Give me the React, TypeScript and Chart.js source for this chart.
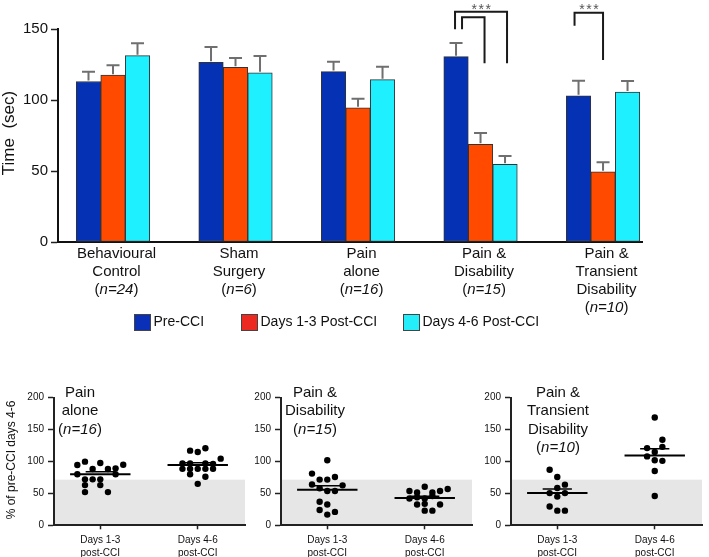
import React, { useEffect, useRef } from 'react';
import { Chart, registerables } from 'chart.js';

Chart.register(...registerables);

const FONT = '"Liberation Sans", Arial, Helvetica, sans-serif';

// ---------- Top bar chart data ----------
const groupNames = [
  ['Behavioural', 'Control'],
  ['Sham', 'Surgery'],
  ['Pain', 'alone'],
  ['Pain &', 'Disability'],
  ['Pain &', 'Transient', 'Disability'],
];
const groupN = ['24', '6', '16', '15', '10'];
const seriesNames = ['Pre-CCI', 'Days 1-3 Post-CCI', 'Days 4-6 Post-CCI'];
const preCciMeans = [113, 126.5, 120, 130.5, 103];
const preCciSem = [6.9, 10.8, 7, 9.6, 10.6];
const days13Means = [117.5, 123, 94.5, 68.8, 49.5];
const days13Sem = [7, 6.6, 6.3, 8, 6.6];
const days46Means = [131.2, 119.2, 114.3, 54.7, 105.6];
const days46Sem = [8.8, 11.8, 9.2, 5.9, 7.8];
const barYTicks = [0, 50, 100, 150];
const significance = ['***', '***'];

// ---------- Bottom scatter data ----------
const scatterCategories = [
  ['Days 1-3', 'post-CCI'],
  ['Days 4-6', 'post-CCI'],
];
const painAloneDays13 = [94.6, 99.8, 97.7, 95, 88.3, 88.3, 89.3, 80, 80, 72, 72, 72, 63, 63, 52, 52];
const painAloneDays13Jitter = [-3, -2, 0, 3, -1, 1, 2, -3, 2, -2, -1, 0, -2, 0, -2, 1];
const painAloneDays46 = [117, 115, 120.7, 104.5, 97, 97, 97, 96, 88.5, 88.5, 88.5, 88.5, 88.5, 80, 76, 65];
const painAloneDays46Jitter = [-1, 0, 1, 3, -2, -1, 1, 2, -2, -1, 0, 1, 2, -1, 1, 0];
const painAloneMean = [80, 94.6];
const painAloneSem = [4, 3.5];

const painDisDays13 = [102, 81, 64, 71.6, 71.6, 75.8, 62.6, 58, 53.7, 53.7, 36.8, 32.6, 24, 16.8, 21];
const painDisDays13Jitter = [0, -2, -2, -1, 0, 1, 2, -1, 0, 1, -1, 0, -1, 0, 1];
const painDisDays46 = [60.5, 53.7, 51.6, 51.6, 53.7, 57, 42, 44, 42, 46, 32.6, 33.6, 32.6, 23, 23];
const painDisDays46Jitter = [0, -2, -1, 1, 2, 3, -2, -1, 0, 1, -1, 0, 2, 0, 1];
const painDisMean = [55.8, 42.6];
const painDisSem = [6, 3];

const transDays13 = [87, 75.8, 63.7, 58.4, 50.5, 50.5, 45, 29.5, 23, 23];
const transDays13Jitter = [-1, 0, 1, 0, -1, 1, 0, -1, 0, 1];
const transDays46 = [169, 134, 121, 123, 115, 108, 102, 101, 85, 46];
const transDays46Jitter = [0, 1, -1, 1, 0, -1, 0, 1, 0, 0];
const transMean = [50.5, 109.5];
const transSem = [6.5, 10.5];

const scatterYTicks = [0, 50, 100, 150, 200];
const thresholdPercent = 71.5;

// ---------- helpers ----------
type Seg = [string, boolean];
function nSegments(n: string): Seg[] {
  return [['(', false], ['n=' + n, true], [')', false]];
}
function drawSegments(ctx: CanvasRenderingContext2D, segs: Seg[], cx: number, cy: number, size: number) {
  let total = 0;
  const widths = segs.map(([t, it]) => {
    ctx.font = `${it ? 'italic ' : ''}${size}px ${FONT}`;
    const w = ctx.measureText(t).width;
    total += w;
    return w;
  });
  let x = cx - total / 2;
  ctx.textAlign = 'left';
  ctx.textBaseline = 'middle';
  segs.forEach(([t, it], i) => {
    ctx.font = `${it ? 'italic ' : ''}${size}px ${FONT}`;
    ctx.fillText(t, x, cy);
    x += widths[i];
  });
}

const barColors = ['#0532B4', '#FF4A00', '#1EF0FF'];
const legendColors = ['#0A30B8', '#EC2A22', '#24EEFA'];
const allMeans = [preCciMeans, days13Means, days46Means];
const allSems = [preCciSem, days13Sem, days46Sem];

const topPlugin = {
  id: 'topDecor',
  afterDatasetsDraw(chart: any) {
    const ctx: CanvasRenderingContext2D = chart.ctx;
    const ys = chart.scales.y;
    ctx.save();
    // error bars
    ctx.strokeStyle = '#6f6f6f';
    ctx.lineWidth = 2;
    allSems.forEach((sems, di) => {
      const meta = chart.getDatasetMeta(di);
      meta.data.forEach((el: any, j: number) => {
        const top = ys.getPixelForValue(allMeans[di][j] + sems[j]);
        ctx.beginPath();
        ctx.moveTo(el.x, el.y - 1);
        ctx.lineTo(el.x, top);
        ctx.moveTo(el.x - 6.5, top);
        ctx.lineTo(el.x + 6.5, top);
        ctx.stroke();
      });
    });
    // significance brackets
    const bx = (di: number, g: number) => chart.getDatasetMeta(di).data[g].x;
    const brackets = [
      { g: 3, a: 0, b: 2, top: 162.2, lb: 149.8, rb: 125.8, dl: -1, dr: 2, s: 0 },
      { g: 3, a: 0, b: 1, top: 158.2, lb: 149.8, rb: 125.8, dl: 6, dr: 4, s: -1 },
      { g: 4, a: 0, b: 1, top: 161.5, lb: 152.3, rb: 128.2, dl: -4, dr: 0, s: 1 },
    ];
    ctx.strokeStyle = '#1a1a1a';
    ctx.lineWidth = 2;
    brackets.forEach((br) => {
      const x1 = bx(br.a, br.g) + br.dl;
      const x2 = bx(br.b, br.g) + br.dr;
      const yt = ys.getPixelForValue(br.top);
      ctx.beginPath();
      ctx.moveTo(x1, ys.getPixelForValue(br.lb));
      ctx.lineTo(x1, yt);
      ctx.lineTo(x2, yt);
      ctx.lineTo(x2, ys.getPixelForValue(br.rb));
      ctx.stroke();
      if (br.s >= 0) {
        ctx.fillStyle = '#555';
        ctx.font = `14px ${FONT}`;
        ctx.textAlign = 'center';
        ctx.textBaseline = 'alphabetic';
        (ctx as any).letterSpacing = '1.5px';
        ctx.fillText(significance[br.s], (x1 + x2) / 2 + 1, 13.5);
        (ctx as any).letterSpacing = '0px';
      }
    });
    ctx.restore();
  },
  afterDraw(chart: any) {
    const ctx: CanvasRenderingContext2D = chart.ctx;
    ctx.save();
    ctx.fillStyle = '#111';
    // category labels
    groupNames.forEach((lines, g) => {
      const cx = chart.getDatasetMeta(1).data[g].x + 3.5;
      ctx.font = `15px ${FONT}`;
      ctx.textAlign = 'center';
      ctx.textBaseline = 'middle';
      lines.forEach((l, k) => {
        ctx.font = `15px ${FONT}`;
        ctx.textAlign = 'center';
        ctx.textBaseline = 'middle';
        ctx.fillText(l, cx, 254 + k * 18);
      });
      drawSegments(ctx, nSegments(groupN[g]), cx, 254 + lines.length * 18, 15);
    });
    // legend
    const lx = [134, 241, 403];
    seriesNames.forEach((name, i) => {
      ctx.fillStyle = legendColors[i];
      ctx.fillRect(lx[i], 314, 17, 17);
      ctx.strokeStyle = '#444';
      ctx.lineWidth = 1;
      ctx.strokeRect(lx[i] + 0.5, 314.5, 16, 16);
      ctx.fillStyle = '#111';
      ctx.font = `14px ${FONT}`;
      ctx.textAlign = 'left';
      ctx.textBaseline = 'middle';
      ctx.fillText(name, lx[i] + 19.5, 322.5);
    });
    // y title
    ctx.translate(9, 133);
    ctx.rotate(-Math.PI / 2);
    ctx.font = `17px ${FONT}`;
    ctx.textAlign = 'center';
    ctx.textBaseline = 'middle';
    ctx.fillText('Time  (sec)', 0, 0);
    ctx.restore();
  },
};

function TopChart() {
  const ref = useRef<HTMLCanvasElement>(null);
  useEffect(() => {
    const canvas = ref.current!;
    const chart = new Chart(canvas, {
      type: 'bar',
      data: {
        datasets: allMeans.map((arr, i) => ({
          label: seriesNames[i],
          data: arr.map((v, g) => ({ x: g, y: v })),
          backgroundColor: barColors[i],
          borderColor: '#333',
          borderWidth: 1,
          borderSkipped: false,
          barThickness: 24.5,
        })),
      } as any,
      options: {
        animation: false,
        responsive: false,
        devicePixelRatio: 1,
        layout: { padding: { top: 29, right: 67, left: 0, bottom: 0 } },
        plugins: { legend: { display: false }, tooltip: { enabled: false } },
        scales: {
          x: {
            type: 'linear',
            min: -0.449,
            max: 4.318,
            offset: false,
            ticks: { display: false },
            grid: { display: false, offset: false },
            border: { display: true, color: '#111', width: 2 },
            afterFit: (s: any) => {
              s.height = 98;
            },
          },
          y: {
            min: 0,
            max: 150,
            afterBuildTicks: (s: any) => {
              s.ticks = barYTicks.map((v) => ({ value: v }));
            },
            ticks: { color: '#111', font: { family: FONT, size: 15 }, padding: 3 },
            grid: { display: true, drawOnChartArea: false, drawTicks: true, tickLength: 7, tickColor: '#222', tickWidth: 1.5 },
            border: { display: true, color: '#111', width: 2 },
            afterFit: (s: any) => {
              s.width = 58;
            },
          },
        },
      } as any,
      plugins: [topPlugin],
    });
    return () => chart.destroy();
  }, []);
  return (
    <canvas
      ref={ref}
      width={709}
      height={340}
      style={{ position: 'absolute', left: 0, top: 0, width: 709, height: 340 }}
    />
  );
}

const SLOT = 0.157;
const CAT_POS = [0, 2];

type PanelProps = {
  left: number;
  title: string[];
  n: string;
  titleX: number;
  yTitle: boolean;
  d13: number[];
  j13: number[];
  d46: number[];
  j46: number[];
  means: number[];
  sems: number[];
};

function ScatterPanel(p: PanelProps) {
  const ref = useRef<HTMLCanvasElement>(null);
  useEffect(() => {
    const canvas = ref.current!;
    const pts = (c: number, vals: number[], jit: number[]) => vals.map((v, i) => ({ x: c + jit[i] * SLOT, y: v }));
    const lineDs = (c: number, y: number, half: number, w: number) => ({
      data: [
        { x: c - half, y },
        { x: c + half, y },
      ],
      showLine: true,
      pointRadius: 0,
      borderColor: '#000',
      borderWidth: w,
      order: 0,
    });
    const decor = {
      id: 'panelDecor',
      beforeDraw(chart: any) {
        const ctx: CanvasRenderingContext2D = chart.ctx;
        const ys = chart.scales.y;
        const a = chart.chartArea;
        const yt = ys.getPixelForValue(thresholdPercent);
        const yb = ys.getPixelForValue(0);
        ctx.save();
        ctx.fillStyle = '#e6e6e6';
        ctx.fillRect(a.left, yt, a.right - a.left, yb - yt);
        ctx.restore();
      },
      afterDraw(chart: any) {
        const ctx: CanvasRenderingContext2D = chart.ctx;
        ctx.save();
        ctx.fillStyle = '#111';
        p.title.forEach((l, k) => {
          ctx.font = `15px ${FONT}`;
          ctx.textAlign = 'center';
          ctx.textBaseline = 'middle';
          ctx.fillText(l, p.titleX, 23 + k * 18.3);
        });
        drawSegments(ctx, nSegments(p.n), p.titleX, 23 + p.title.length * 18.3, 15);
        if (p.yTitle) {
          ctx.translate(12, 90);
          ctx.rotate(-Math.PI / 2);
          ctx.font = `12px ${FONT}`;
          ctx.textAlign = 'center';
          ctx.textBaseline = 'middle';
          ctx.fillText('% of pre-CCI days 4-6', 0, 0);
        }
        ctx.restore();
      },
    };
    const chart = new Chart(canvas, {
      type: 'scatter',
      data: {
        datasets: [
          lineDs(CAT_POS[0], p.means[0], 0.62, 2),
          lineDs(CAT_POS[0], p.means[0] + p.sems[0], 0.3, 1.5),
          lineDs(CAT_POS[1], p.means[1], 0.62, 2),
          lineDs(CAT_POS[1], p.means[1] + p.sems[1], 0.3, 1.5),
          {
            data: pts(CAT_POS[0], p.d13, p.j13),
            pointRadius: 3.2,
            pointBackgroundColor: '#000',
            pointBorderWidth: 0,
            order: 1,
          },
          {
            data: pts(CAT_POS[1], p.d46, p.j46),
            pointRadius: 3.2,
            pointBackgroundColor: '#000',
            pointBorderWidth: 0,
            order: 1,
          },
        ],
      } as any,
      options: {
        animation: false,
        responsive: false,
        devicePixelRatio: 1,
        layout: { padding: { top: 27.7, right: 4, left: 0, bottom: 0 } },
        plugins: { legend: { display: false }, tooltip: { enabled: false } },
        scales: {
          x: {
            type: 'linear',
            min: -0.95,
            max: 2.97,
            afterBuildTicks: (s: any) => {
              s.ticks = CAT_POS.map((v) => ({ value: v }));
            },
            ticks: {
              color: '#111',
              font: { family: FONT, size: 10, lineHeight: 1.3 },
              padding: 4,
              maxRotation: 0,
              autoSkip: false,
              callback: (v: any) => scatterCategories[CAT_POS.indexOf(Number(v))] || '',
            },
            grid: { display: true, drawOnChartArea: false, drawTicks: true, tickLength: 4, tickColor: '#222', tickWidth: 1.5 },
            border: { display: true, color: '#222', width: 2 },
            afterFit: (s: any) => {
              s.height = 31.7;
            },
          },
          y: {
            min: 0,
            max: 200,
            afterBuildTicks: (s: any) => {
              s.ticks = scatterYTicks.map((v) => ({ value: v }));
            },
            ticks: { color: '#111', font: { family: FONT, size: 10 }, padding: 4 },
            grid: { display: true, drawOnChartArea: false, drawTicks: true, tickLength: 6, tickColor: '#222', tickWidth: 1.5 },
            border: { display: true, color: '#222', width: 2 },
            afterFit: (s: any) => {
              s.width = 54;
            },
          },
        },
      } as any,
      plugins: [decor],
    });
    return () => chart.destroy();
  }, []);
  return (
    <canvas
      ref={ref}
      width={249}
      height={187}
      style={{ position: 'absolute', left: p.left, top: 370, width: 249, height: 187 }}
    />
  );
}

export default function App() {
  return (
    <div style={{ position: 'absolute', left: 0, top: 0, width: 709, height: 557, background: '#fff', overflow: 'hidden' }}>
      <TopChart />
      <ScatterPanel
        left={0}
        title={['Pain', 'alone']}
        n="16"
        titleX={80}
        yTitle={true}
        d13={painAloneDays13}
        j13={painAloneDays13Jitter}
        d46={painAloneDays46}
        j46={painAloneDays46Jitter}
        means={painAloneMean}
        sems={painAloneSem}
      />
      <ScatterPanel
        left={227}
        title={['Pain &', 'Disability']}
        n="15"
        titleX={88}
        yTitle={false}
        d13={painDisDays13}
        j13={painDisDays13Jitter}
        d46={painDisDays46}
        j46={painDisDays46Jitter}
        means={painDisMean}
        sems={painDisSem}
      />
      <ScatterPanel
        left={457}
        title={['Pain &', 'Transient', 'Disability']}
        n="10"
        titleX={101}
        yTitle={false}
        d13={transDays13}
        j13={transDays13Jitter}
        d46={transDays46}
        j46={transDays46Jitter}
        means={transMean}
        sems={transSem}
      />
    </div>
  );
}
